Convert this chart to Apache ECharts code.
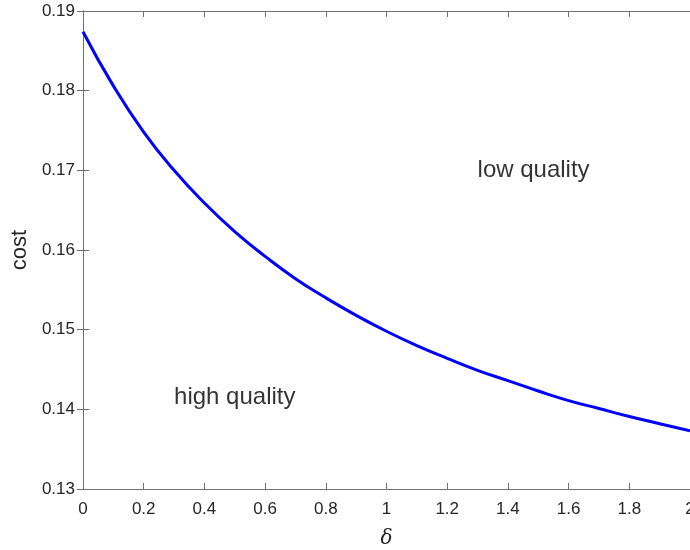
<!DOCTYPE html>
<html>
<head>
<meta charset="utf-8">
<title>cost vs delta</title>
<script src="https://cdn.jsdelivr.net/npm/echarts@6/dist/echarts.min.js"></script>
<style>
  html, body { margin: 0; padding: 0; background: #fff; }
  #main { width: 690px; height: 550px; }
</style>
</head>
<body>
<div id="main"></div>
<script>
// values
var delta = [0, 0.1, 0.2, 0.3, 0.4, 0.5, 0.6, 0.7, 0.8, 0.9, 1.0,
             1.1, 1.2, 1.3, 1.4, 1.5, 1.6, 1.7, 1.8, 1.9, 2.0];
var cost = [0.1874, 0.1806, 0.1748, 0.1700, 0.1659, 0.1623, 0.1592, 0.1564, 0.1540, 0.1518, 0.1498,
            0.1480, 0.1464, 0.1449, 0.1436, 0.1423, 0.1411, 0.1401, 0.1391, 0.1382, 0.1373];
var xTickLabels = ['0', '0.2', '0.4', '0.6', '0.8', '1', '1.2', '1.4', '1.6', '1.8', '2'];
var yTickLabels = ['0.13', '0.14', '0.15', '0.16', '0.17', '0.18', '0.19'];
var notes = [[1.3, 0.17, 'low quality'], [0.3, 0.1415, 'high quality']];

var axisGray = '#707070';
var textDark = '#262626';

var myChart = echarts.init(document.getElementById('main'));

function tickIndex(v, step, base) {
    return Math.round((v - base) / step);
}

var boxAxis = {
    axisLine: { show: true, lineStyle: { color: axisGray, width: 1 } },
    axisTick: { show: true, inside: true, length: 6, lineStyle: { color: axisGray } },
    splitLine: { show: false }
};

var option = {
    animation: false,
    grid: { left: 83, right: 0, top: 11, bottom: 61, outerBoundsMode: 'none', containLabel: false },
    xAxis: [
        Object.assign({}, boxAxis, {
            type: 'value', min: 0, max: 2, interval: 0.2, position: 'bottom',
            name: 'δ', nameLocation: 'middle', nameGap: 40,
            nameTextStyle: { fontFamily: 'DejaVu Serif', fontStyle: 'italic', fontSize: 20, color: textDark },
            axisLabel: {
                margin: 12, fontSize: 17, color: textDark, fontFamily: 'Liberation Sans',
                formatter: function (v) { return xTickLabels[tickIndex(v, 0.2, 0)]; }
            }
        }),
        Object.assign({}, boxAxis, {
            type: 'value', min: 0, max: 2, interval: 0.2, position: 'top',
            axisLabel: { show: false }
        })
    ],
    yAxis: [
        Object.assign({}, boxAxis, {
            type: 'value', min: 0.13, max: 0.19, interval: 0.01, position: 'left',
            name: 'cost', nameLocation: 'middle', nameGap: 51, nameRotate: 90,
            nameTextStyle: { fontFamily: 'Liberation Sans', fontSize: 22, color: textDark },
            axisLabel: {
                margin: 8, fontSize: 17, color: textDark, fontFamily: 'Liberation Sans',
                formatter: function (v) { return yTickLabels[tickIndex(v, 0.01, 0.13)]; }
            }
        }),
        Object.assign({}, boxAxis, {
            type: 'value', min: 0.13, max: 0.19, interval: 0.01, position: 'right',
            axisLabel: { show: false }
        })
    ],
    series: [
        {
            type: 'line',
            data: delta.map(function (d, i) { return [d, cost[i]]; }),
            smooth: true,
            showSymbol: false,
            lineStyle: { color: '#0000ff', width: 3 },
            itemStyle: { color: '#0000ff' }
        },
        {
            type: 'scatter',
            data: notes,
            symbolSize: 0,
            label: {
                show: true, position: 'right', distance: 0,
                fontFamily: 'Liberation Sans', fontSize: 24, color: '#000',
                formatter: function (p) { return p.value[2]; }
            }
        }
    ]
};
myChart.setOption(option);
</script>
</body>
</html>
